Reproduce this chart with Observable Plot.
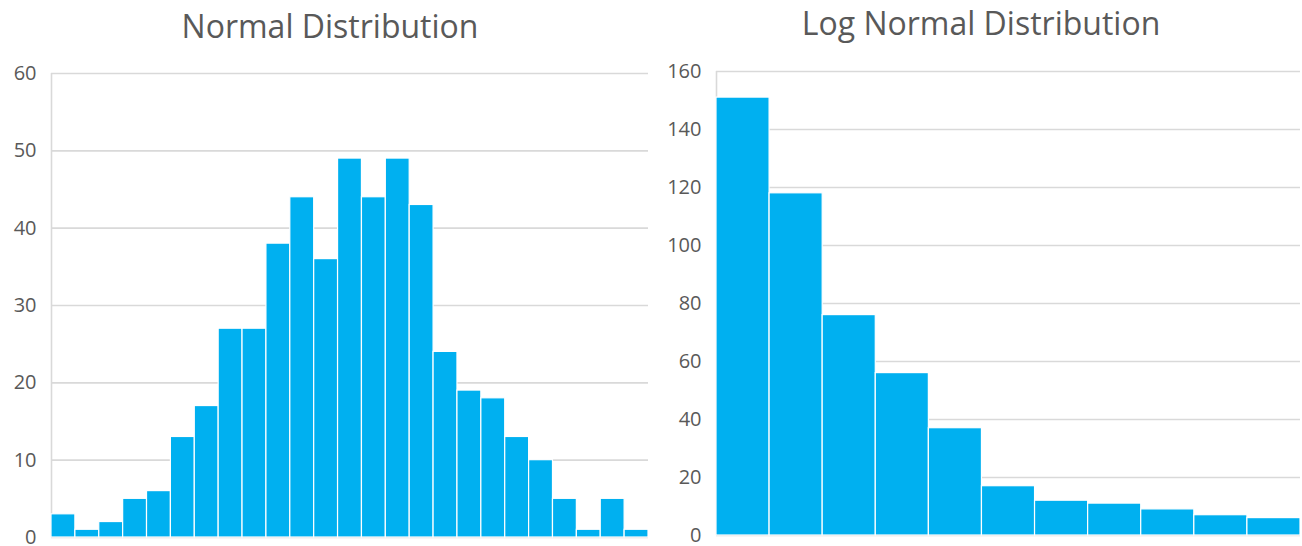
<!DOCTYPE html>
<html>
<head>
<meta charset="utf-8">
<script src="https://cdn.jsdelivr.net/npm/d3@7"></script>
<script src="https://cdn.jsdelivr.net/npm/@observablehq/plot@0.6"></script>
<style>
  html, body { margin: 0; padding: 0; background: #fff; }
  #wrap { position: relative; width: 1302px; height: 546px; overflow: hidden; font-family: "Open Sans", sans-serif; }
  .title { position: absolute; color: #595959; font-size: 32px; font-family: "Open Sans", sans-serif; white-space: nowrap; transform: translateX(-50%); line-height: 44px; }
  .chart { position: absolute; }
</style>
</head>
<body>
<div id="wrap">
  <div class="title" id="t1" style="left:330px; top:4px;">Normal Distribution</div>
  <div class="title" id="t2" style="left:981px; top:1px;">Log Normal Distribution</div>
  <div class="chart" id="c1" style="left:0px; top:50px;"></div>
  <div class="chart" id="c2" style="left:650px; top:50px;"></div>
</div>
<script>
// Normal distribution histogram counts (25 bins)
const normalCounts = [3, 1, 2, 5, 6, 13, 17, 27, 27, 38, 44, 36, 49, 44, 49, 43, 24, 19, 18, 13, 10, 5, 1, 5, 1];
// Log normal distribution histogram counts (11 bins)
const logNormalCounts = [151, 118, 76, 56, 37, 17, 12, 11, 9, 7, 6];
// Y tick labels
const normalTicks = [0, 10, 20, 30, 40, 50, 60];
const logNormalTicks = [0, 20, 40, 60, 80, 100, 120, 140, 160];

const BAR = "#00b0f0";
const GRID = "#d9d9d9";

function histogram(counts, ticks, opts) {
  const data = counts.map((c, i) => ({lo: i, hi: i + 1, count: c}));
  return Plot.plot({
    width: opts.width,
    height: opts.height,
    marginLeft: opts.marginLeft,
    marginRight: opts.marginRight,
    marginTop: opts.marginTop,
    marginBottom: opts.marginBottom,
    style: {fontFamily: "Open Sans, sans-serif", fontSize: "20px", color: "#595959", background: "transparent", overflow: "visible"},
    x: {domain: [0, counts.length], axis: null},
    y: {domain: [ticks[0], ticks[ticks.length - 1]], ticks: ticks, tickSize: 0, tickPadding: 15, label: null, tickFormat: d => String(d)},
    marks: [
      Plot.ruleY(ticks, {stroke: GRID, strokeWidth: 1.6}),
      Plot.ruleX([0], {stroke: GRID, strokeWidth: 1.6}),
      Plot.rectY(data, {x1: "lo", x2: "hi", y: "count", fill: BAR, stroke: "white", strokeWidth: 1.2})
    ]
  });
}

document.getElementById("c1").append(histogram(normalCounts, normalTicks, {
  width: 650, height: 496, marginLeft: 51, marginRight: 2, marginTop: 23, marginBottom: 9
}));
document.getElementById("c2").append(histogram(logNormalCounts, logNormalTicks, {
  width: 652, height: 496, marginLeft: 66, marginRight: 2, marginTop: 21, marginBottom: 11
}));
</script>
</body>
</html>
